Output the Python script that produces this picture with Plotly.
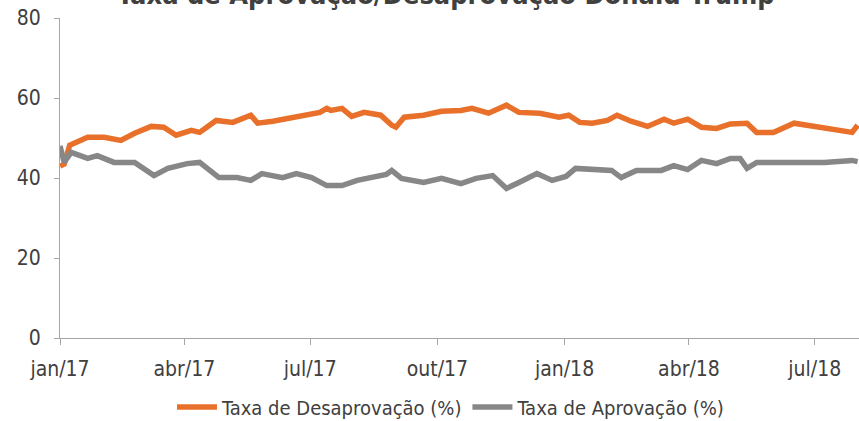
import plotly.graph_objects as go

# Taxa de Desaprovação (%)
desaprov_dates = [
    "2017-01-01", "2017-01-04", "2017-01-08", "2017-01-21", "2017-02-02", "2017-02-14",
    "2017-02-24", "2017-03-08", "2017-03-17", "2017-03-26", "2017-04-06", "2017-04-12",
    "2017-04-24", "2017-05-06", "2017-05-19", "2017-05-24", "2017-06-04", "2017-06-16",
    "2017-06-27", "2017-07-08", "2017-07-13", "2017-07-16", "2017-07-24", "2017-07-31",
    "2017-08-09", "2017-08-21", "2017-08-29", "2017-09-01", "2017-09-07", "2017-09-21",
    "2017-10-04", "2017-10-18", "2017-10-26", "2017-11-07", "2017-11-20", "2017-11-29",
    "2017-12-14", "2017-12-28", "2018-01-04", "2018-01-12", "2018-01-21", "2018-02-01",
    "2018-02-08", "2018-02-18", "2018-03-02", "2018-03-14", "2018-03-21", "2018-03-31",
    "2018-04-10", "2018-04-21", "2018-05-01", "2018-05-13", "2018-05-20", "2018-06-01",
    "2018-06-16", "2018-07-01", "2018-07-15", "2018-07-28", "2018-08-01",
]
desaprov_values = [
    43.0, 43.5, 48.2, 50.2, 50.2, 49.4,
    51.2, 52.9, 52.7, 50.7, 51.9, 51.4,
    54.4, 53.9, 55.7, 53.7, 54.2, 54.9,
    55.7, 56.4, 57.4, 56.9, 57.4, 55.4,
    56.4, 55.7, 53.2, 52.7, 55.2, 55.7,
    56.7, 56.9, 57.4, 56.2, 58.2, 56.4,
    56.2, 55.2, 55.7, 53.9, 53.7, 54.4,
    55.7, 54.2, 52.9, 54.7, 53.7, 54.7,
    52.7, 52.4, 53.5, 53.7, 51.4, 51.4,
    53.7, 52.9, 52.4, 51.4, 53.2,
]

# Taxa de Aprovação (%)
aprov_dates = [
    "2017-01-01", "2017-01-04", "2017-01-09", "2017-01-21", "2017-01-28", "2017-02-09",
    "2017-02-24", "2017-03-10", "2017-03-20", "2017-04-03", "2017-04-12", "2017-04-26",
    "2017-05-09", "2017-05-19", "2017-05-27", "2017-06-11", "2017-06-21", "2017-07-02",
    "2017-07-13", "2017-07-24", "2017-08-04", "2017-08-16", "2017-08-25", "2017-08-29",
    "2017-09-05", "2017-09-21", "2017-10-04", "2017-10-18", "2017-10-29", "2017-11-10",
    "2017-11-20", "2017-11-29", "2017-12-12", "2017-12-23", "2018-01-02", "2018-01-09",
    "2018-01-21", "2018-02-04", "2018-02-11", "2018-02-22", "2018-03-12", "2018-03-21",
    "2018-03-31", "2018-04-10", "2018-04-21", "2018-05-01", "2018-05-08", "2018-05-13",
    "2018-05-20", "2018-06-14", "2018-07-08", "2018-07-28", "2018-08-01",
]
aprov_values = [
    48.0, 43.9, 46.4, 44.9, 45.6, 43.9,
    43.9, 40.6, 42.4, 43.6, 43.9, 40.1,
    40.1, 39.4, 41.1, 40.1, 41.1, 40.1,
    38.1, 38.1, 39.4, 40.1, 40.9, 41.9,
    39.9, 38.9, 39.9, 38.6, 39.9, 40.6,
    37.4, 38.9, 41.1, 39.4, 40.4, 42.4,
    42.1, 41.9, 40.1, 41.9, 41.9, 43.1,
    42.1, 44.4, 43.6, 44.9, 44.9, 42.4,
    43.9, 43.9, 43.9, 44.4, 44.1,
]

tick_dates = ["2017-01-01", "2017-04-01", "2017-07-01", "2017-10-01",
              "2018-01-01", "2018-04-01", "2018-07-01"]
tick_labels = ["jan/17", "abr/17", "jul/17", "out/17", "jan/18", "abr/18", "jul/18"]

title_text = "Taxa de Aprovação/Desaprovação Donald Trump"

FONT = "DejaVu Sans Condensed, Liberation Sans Narrow, sans-serif"
ORANGE = "#E8702A"
GRAY = "#878787"
AXIS = "#A6A6A6"
TEXT = "#404040"

fig = go.Figure()
fig.add_trace(go.Scatter(x=desaprov_dates, y=desaprov_values, mode="lines",
                         name="Taxa de Desaprovação (%)",
                         line=dict(color=ORANGE, width=5.5)))
fig.add_trace(go.Scatter(x=aprov_dates, y=aprov_values, mode="lines",
                         name="Taxa de Aprovação (%)",
                         line=dict(color=GRAY, width=5.5)))

fig.update_layout(
    width=859, height=421,
    margin=dict(l=60, r=0, t=18, b=83, autoexpand=False),
    paper_bgcolor="white", plot_bgcolor="white",
    font=dict(family=FONT, size=21, color=TEXT),
    showlegend=True,
    legend=dict(orientation="h", x=0.525, xanchor="center", xref="container",
                y=(421 - 407) / 421, yref="container", yanchor="middle",
                font=dict(size=20, color=TEXT), itemwidth=40, traceorder="normal",
                bgcolor="rgba(0,0,0,0)"),
    annotations=[dict(text=f"<b>{title_text}</b>", xref="paper", yref="paper",
                      x=0.483, xanchor="center", y=1.075, yanchor="middle",
                      showarrow=False, font=dict(size=27, color=TEXT))],
)

fig.update_xaxes(
    range=["2017-01-01", "2018-08-02"],
    tickvals=tick_dates, ticktext=tick_labels,
    showgrid=False, zeroline=False, automargin=False,
    showline=True, linecolor=AXIS, linewidth=1,
    ticks="outside", ticklen=6, tickcolor=AXIS, tickwidth=1,
    ticklabelstandoff=6,
    tickfont=dict(size=21, color=TEXT),
)
fig.update_yaxes(
    range=[0, 80], tickvals=[0, 20, 40, 60, 80],
    showgrid=False, zeroline=False, automargin=False,
    showline=True, linecolor=AXIS, linewidth=1,
    ticks="outside", ticklen=5, tickcolor=AXIS, tickwidth=1,
    ticklabelstandoff=9,
    tickfont=dict(size=21, color=TEXT),
)

fig.write_html("out.html",
               config={"displayModeBar": False},
               post_script="document.body.style.margin='0';document.body.style.overflow='hidden';")
